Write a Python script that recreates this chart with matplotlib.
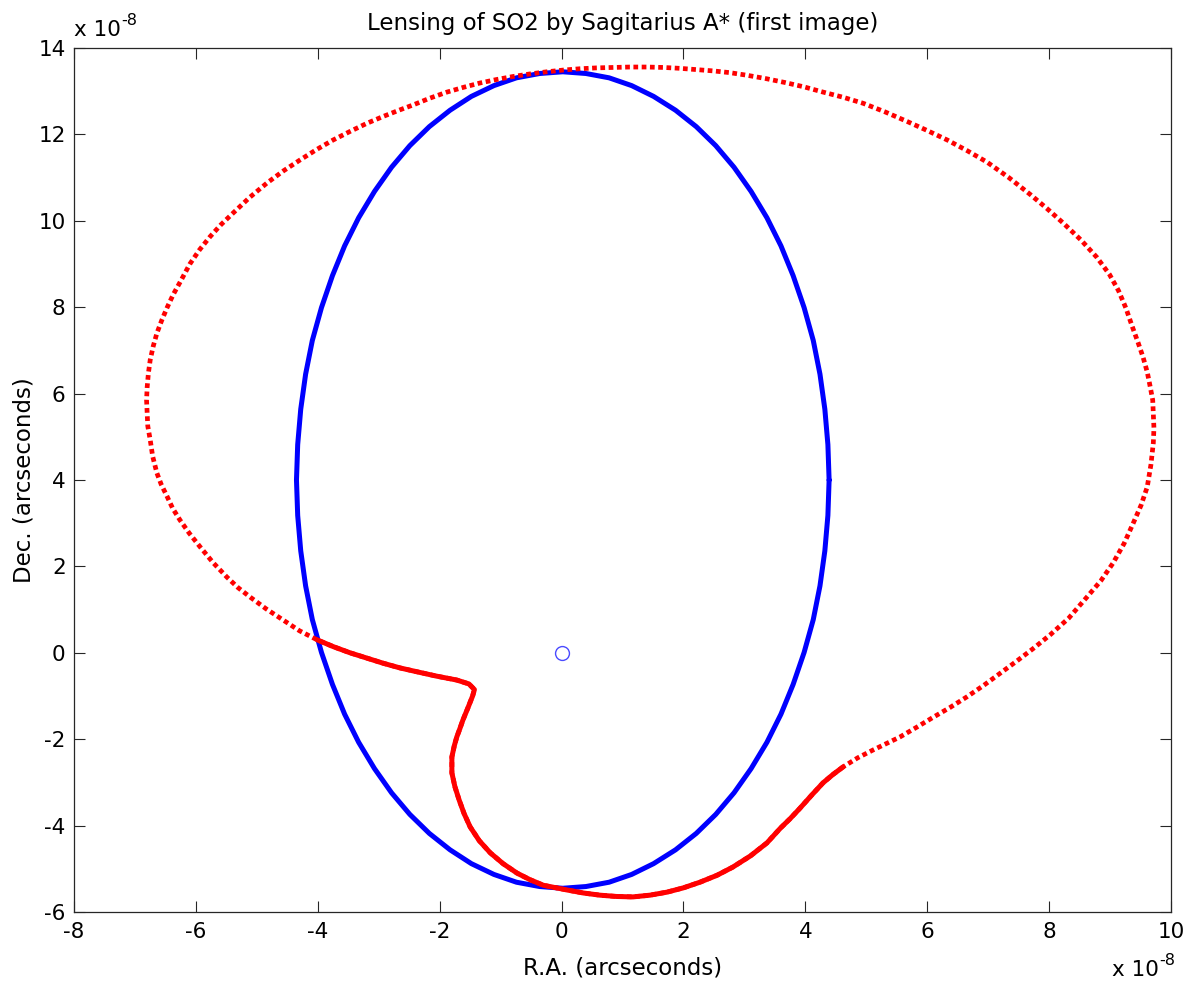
import matplotlib
matplotlib.use('Agg')
import matplotlib.pyplot as plt
import numpy as np

plt.rcParams['font.family'] = ['DejaVu Sans']
plt.rcParams['axes.unicode_minus'] = False

# positions in units of 1e-8 arcseconds
# orbit of SO2 (blue)
orbit_x = [4.39, 4.37, 4.32, 4.24, 4.13, 3.98, 3.80, 3.60, 3.37, 3.11,
           2.83, 2.53, 2.21, 1.87, 1.51, 1.15, 0.78, 0.40, 0.02,
           -0.36, -0.74, -1.11, -1.48, -1.83, -2.17, -2.49, -2.79, -3.07,
           -3.33, -3.56, -3.76, -3.94, -4.09, -4.20, -4.28, -4.33, -4.35,
           -4.33, -4.28, -4.20, -4.09, -3.94, -3.76, -3.56, -3.33, -3.07,
           -2.79, -2.49, -2.17, -1.83, -1.48, -1.11, -0.74, -0.36, 0.02,
           0.40, 0.78, 1.15, 1.51, 1.87, 2.21, 2.53, 2.83, 3.11,
           3.37, 3.60, 3.80, 3.98, 4.13, 4.24, 4.32, 4.37]
orbit_y = [4.00, 4.82, 5.64, 6.45, 7.23, 7.99, 8.73, 9.42, 10.07, 10.68,
           11.24, 11.74, 12.18, 12.56, 12.88, 13.13, 13.31, 13.41, 13.45,
           13.41, 13.31, 13.13, 12.88, 12.56, 12.18, 11.74, 11.24, 10.68,
           10.07, 9.42, 8.73, 7.99, 7.23, 6.45, 5.64, 4.82, 4.00,
           3.18, 2.36, 1.55, 0.77, 0.01, -0.73, -1.42, -2.07, -2.68,
           -3.24, -3.74, -4.18, -4.56, -4.88, -5.13, -5.31, -5.41, -5.45,
           -5.41, -5.31, -5.13, -4.88, -4.56, -4.18, -3.74, -3.24, -2.68,
           -2.07, -1.42, -0.73, 0.01, 0.77, 1.55, 2.36, 3.18]

# first lensed image (red): densely sampled stretch near periapsis
image_dense_x = [4.62, 4.45, 4.29, 4.10, 3.91, 3.75, 3.59, 3.37, 3.10, 2.81,
                 2.55, 2.27, 2.00, 1.73, 1.45, 1.17, 0.90, 0.63, 0.36, 0.09,
                 -0.30, -0.52, -0.73, -0.96, -1.17, -1.35, -1.50, -1.60, -1.68, -1.75,
                 -1.80, -1.80, -1.76, -1.72, -1.67, -1.62, -1.53, -1.46, -1.43, -1.52,
                 -1.72, -2.05, -2.37, -2.65, -2.93, -3.20, -3.47, -3.74, -4.01]
image_dense_y = [-2.64, -2.82, -3.01, -3.30, -3.60, -3.84, -4.06, -4.40, -4.70, -4.96,
                 -5.15, -5.31, -5.44, -5.54, -5.61, -5.65, -5.64, -5.61, -5.56, -5.49,
                 -5.38, -5.25, -5.10, -4.88, -4.63, -4.35, -4.03, -3.72, -3.41, -3.10,
                 -2.78, -2.41, -2.15, -1.95, -1.76, -1.56, -1.25, -1.00, -0.85, -0.72,
                 -0.63, -0.54, -0.44, -0.35, -0.24, -0.12, 0.00, 0.14, 0.30]
# rest of the loop, sparsely sampled
image_sparse_x = [-4.30, -4.57, -4.85, -5.11, -5.31, -5.49, -5.72, -5.93, -6.11, -6.26,
                  -6.38, -6.47, -6.57, -6.64, -6.71, -6.75, -6.79, -6.80, -6.81, -6.80,
                  -6.78, -6.75, -6.70, -6.64, -6.56, -6.47, -6.37, -6.26, -6.10, -5.94,
                  -5.77, -5.59, -5.39, -5.12, -4.83, -4.56, -4.29, -4.02, -3.75, -3.47,
                  -3.19, -2.92, -2.65, -2.44, -2.16, -1.88, -1.61, -1.34, -1.07, -0.80,
                  -0.52, -0.24, 0.03, 0.30, 0.57, 0.84, 1.12, 1.40, 1.67, 1.94,
                  2.21, 2.49, 2.76, 3.04, 3.36, 3.67, 3.98, 4.29, 4.62, 4.95,
                  5.31, 5.67, 6.00, 6.33, 6.66, 6.98, 7.34, 7.69, 7.96, 8.23,
                  8.52, 8.78, 8.99, 9.14, 9.26, 9.36, 9.46, 9.54, 9.61, 9.66,
                  9.70, 9.71, 9.72, 9.71, 9.67, 9.61, 9.51, 9.38, 9.23, 9.05,
                  8.85, 8.62, 8.32, 8.02, 7.74, 7.47, 7.20, 6.93, 6.65, 6.38,
                  6.10, 5.83, 5.55, 5.33, 5.11, 4.86]
image_sparse_y = [0.51, 0.76, 1.02, 1.29, 1.51, 1.75, 2.09, 2.45, 2.77, 3.07,
                  3.34, 3.61, 3.90, 4.16, 4.55, 4.93, 5.25, 5.55, 5.85, 6.15,
                  6.47, 6.78, 7.10, 7.40, 7.70, 8.00, 8.30, 8.58, 9.00, 9.33,
                  9.63, 9.91, 10.18, 10.54, 10.88, 11.16, 11.41, 11.65, 11.87, 12.07,
                  12.26, 12.42, 12.57, 12.68, 12.84, 12.98, 13.09, 13.19, 13.27, 13.34,
                  13.40, 13.45, 13.49, 13.52, 13.54, 13.55, 13.56, 13.56, 13.55, 13.53,
                  13.50, 13.47, 13.43, 13.37, 13.29, 13.20, 13.10, 12.98, 12.86, 12.72,
                  12.52, 12.30, 12.09, 11.87, 11.62, 11.36, 11.00, 10.61, 10.29, 9.95,
                  9.56, 9.16, 8.76, 8.38, 7.98, 7.57, 7.18, 6.85, 6.50, 6.15,
                  5.85, 5.55, 5.20, 4.86, 4.35, 3.84, 3.42, 3.00, 2.53, 2.08,
                  1.67, 1.29, 0.80, 0.42, 0.10, -0.19, -0.47, -0.75, -1.02, -1.26,
                  -1.49, -1.72, -1.95, -2.10, -2.25, -2.43]

# Sagittarius A*
bh_x = [0.0]
bh_y = [0.0]

FS = 15.5
FS_LAB = 16.5

fig = plt.figure(figsize=(11.96, 9.88), dpi=100)
ax = fig.add_axes([0.0619, 0.0769, 0.9172, 0.8745])

ox = orbit_x + orbit_x[:1]
oy = orbit_y + orbit_y[:1]
ax.plot(ox, oy, color='#0000ff', linewidth=3.6, solid_joinstyle='round',
        solid_capstyle='round', zorder=3)

ix = image_dense_x + image_sparse_x + image_dense_x[:1]
iy = image_dense_y + image_sparse_y + image_dense_y[:1]
ax.plot(ix, iy, color='#ff0000', linewidth=3.4, linestyle=(0, (1.0, 0.75)),
        dash_capstyle='butt', zorder=4)
ax.plot(image_dense_x, image_dense_y, color='#ff0000', linewidth=3.6,
        solid_joinstyle='round', solid_capstyle='round', zorder=4)

ax.plot(bh_x, bh_y, 'o', markersize=10, markerfacecolor='none',
        markeredgecolor='#4a4aff', markeredgewidth=1.0, zorder=5)

ax.set_xlim(-8, 10)
ax.set_ylim(-6, 14)
ax.set_xticks(np.arange(-8, 11, 2))
ax.set_yticks(np.arange(-6, 15, 2))
ax.tick_params(direction='in', length=8, width=0.8, top=True, right=True,
               labelsize=FS, colors='#262626', labelcolor='black')
ax.tick_params(axis='x', pad=7)
ax.tick_params(axis='y', pad=6)
for s in ax.spines.values():
    s.set_linewidth(0.9)
    s.set_color('#262626')

ax.set_title('Lensing of SO2 by Sagitarius A* (first image)', fontsize=FS_LAB, pad=13)
ax.set_xlabel('R.A. (arcseconds)', fontsize=FS_LAB)
ax.set_ylabel('Dec. (arcseconds)', fontsize=FS_LAB)
ax.xaxis.set_label_coords(0.5, -0.052)
ax.yaxis.set_label_coords(-0.0355, 0.5)

# MATLAB style exponent labels
t1 = ax.text(0.0, 1.014, 'x 10', transform=ax.transAxes, fontsize=FS,
             ha='left', va='baseline')
ax.annotate('-8', xy=(1, 1), xycoords=t1, xytext=(0.5, 5), textcoords='offset points',
            fontsize=11.5, ha='left', va='top')
t2 = ax.text(0.989, -0.074, 'x 10', transform=ax.transAxes, fontsize=FS,
             ha='right', va='baseline')
ax.annotate('-8', xy=(1, 1), xycoords=t2, xytext=(0.5, 5), textcoords='offset points',
            fontsize=11.5, ha='left', va='top')

fig.savefig('out.png', dpi=100)
